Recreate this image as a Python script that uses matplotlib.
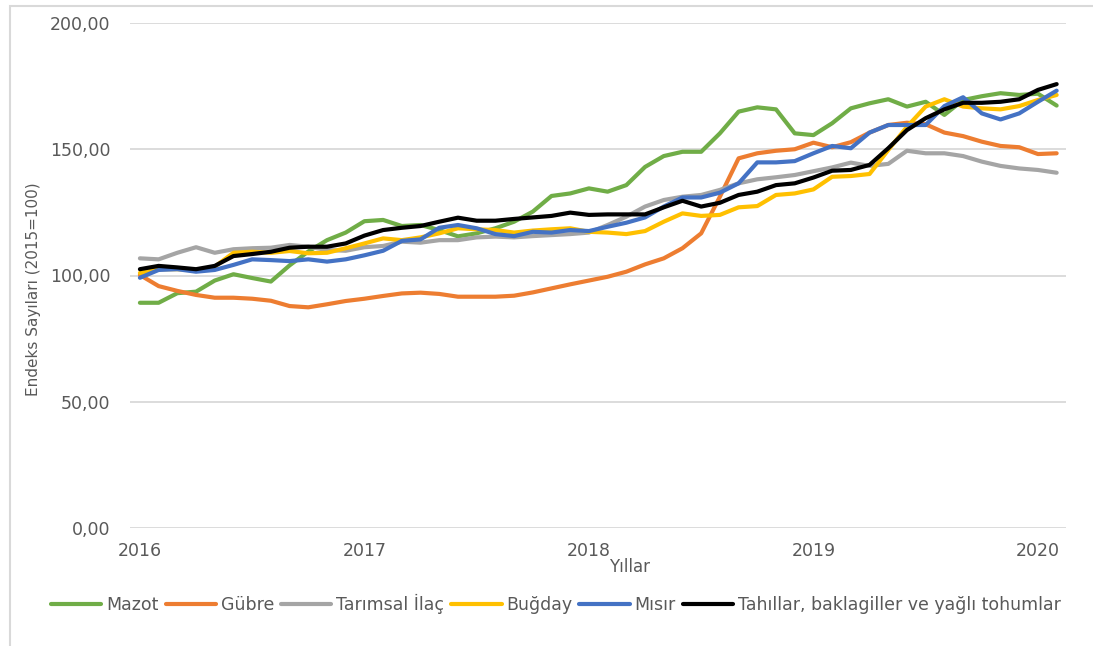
import matplotlib.pyplot as plt
from matplotlib.patches import Rectangle

# monthly index values, Jan 2016 - Feb 2020
years = ['2016', '2017', '2018', '2019', '2020']

mazot = [89.2, 89.2, 93, 93.6, 98, 100.5, 99, 97.6, 104, 109.5,
         114, 117, 121.5, 122, 119.6, 120, 118, 115.5, 116.7, 118.7,
         121.3, 125.3, 131.5, 132.5, 134.5, 133.2, 135.8, 143, 147.3, 149,
         149, 156.3, 164.9, 166.6, 165.8, 156.3, 155.6, 160.3, 166.2, 168.2,
         169.8, 166.9, 168.8, 163.6, 169.5, 171, 172.2, 171.5, 172, 167.3]

gubre = [100.2, 95.8, 93.9, 92.3, 91.2, 91.2, 90.8, 90, 87.9, 87.4,
         88.6, 89.9, 90.8, 91.9, 92.9, 93.2, 92.7, 91.6, 91.6, 91.6,
         92, 93.3, 94.9, 96.5, 98, 99.5, 101.5, 104.4, 106.8, 110.8,
         116.7, 131.2, 146.4, 148.4, 149.4, 150, 152.6, 150.8, 152.8, 156.6,
         159.6, 160.5, 159.9, 156.6, 155.2, 153, 151.3, 150.8, 148.1, 148.4]

ilac = [106.8, 106.4, 109, 111.2, 109, 110.4, 110.8, 111, 112.1, 111.4,
        110.1, 109.8, 111.2, 111.7, 113.4, 113, 114, 114, 115.1, 115.4,
        115.1, 115.6, 116, 116.4, 117, 120, 123.3, 127.3, 129.9, 131.2,
        131.9, 133.9, 136.5, 138.1, 138.9, 139.8, 141.3, 142.8, 144.7, 143.4,
        144.2, 149.4, 148.4, 148.4, 147.3, 145.1, 143.4, 142.4, 141.8, 140.7]

bugday = [101, 102.5, 102.5, 102, 103.5, 109, 109.4, 109, 109.7, 108.8,
          109, 110.8, 112.7, 114.7, 114, 115.1, 116.7, 118.7, 118.3, 118,
          117, 117.8, 118.3, 118.7, 117.3, 117, 116.4, 117.6, 121.3, 124.6,
          123.6, 124, 127, 127.5, 131.9, 132.5, 134.1, 139.1, 139.4, 140.2,
          149.7, 158.9, 166.9, 169.8, 166.9, 166.2, 165.8, 167.1, 169.5, 171.5]

misir = [99.1, 102.2, 102.5, 101.5, 102.2, 104.2, 106.4, 106.1, 105.7, 106.4,
         105.5, 106.4, 108, 109.8, 113.7, 114.3, 118.9, 120, 118.7, 116.4,
         115.6, 117.3, 117, 118, 117.6, 119.3, 120.9, 123, 127.3, 130.9,
         130.9, 132.8, 136.5, 144.8, 144.8, 145.3, 148.4, 151.3, 150.4, 156.6,
         159.6, 159.6, 159.6, 167.1, 170.6, 164.2, 161.8, 164.2, 168.8, 173.2]

tahil = [102.5, 103.8, 103.2, 102.5, 103.8, 107.7, 108.5, 109.4, 111, 111.4,
         111.4, 112.7, 115.8, 118, 118.9, 119.6, 121.3, 122.9, 121.7, 121.7,
         122.4, 123, 123.6, 124.9, 124, 124.2, 124.2, 124.2, 127, 129.6,
         127.3, 128.8, 131.9, 133.2, 135.8, 136.5, 138.8, 141.5, 141.8, 143.8,
         150.4, 157.6, 162.3, 165.8, 168.4, 168.4, 168.8, 169.8, 173.5, 175.8]

series = [
    ('Mazot', mazot, '#70AD47'),
    ('Gübre', gubre, '#ED7D31'),
    ('Tarımsal İlaç', ilac, '#A5A5A5'),
    ('Buğday', bugday, '#FFC000'),
    ('Mısır', misir, '#4472C4'),
    ('Tahıllar, baklagiller ve yağlı tohumlar', tahil, '#000000'),
]

txt = '#595959'
plt.rcParams['font.family'] = ['DejaVu Sans']

fig = plt.figure(figsize=(10.93, 6.46), dpi=100)
ax = fig.add_axes([130 / 1093, 1 - 528 / 646, (1066 - 130) / 1093, (528 - 23) / 646])

x = list(range(len(mazot)))
for name, vals, col in series:
    ax.plot(x, vals, color=col, lw=3, label=name, solid_capstyle='round')

ax.set_xlim(-0.53, 49.5)
ax.set_ylim(0, 200)
ax.set_xticks([0, 12, 24, 36, 48])
ax.set_xticklabels(years)
ax.set_yticks([0, 50, 100, 150, 200])
ax.set_yticklabels(['0,00', '50,00', '100,00', '150,00', '200,00'])
ax.tick_params(axis='x', length=0, pad=10, labelsize=12.5, labelcolor=txt)
ax.tick_params(axis='y', length=0, pad=14, labelsize=12.5, labelcolor=txt)
ax.grid(axis='y', color='#D9D9D9', lw=1.3)
ax.set_axisbelow(True)
for s in ax.spines.values():
    s.set_visible(False)

ax.set_ylabel('Endeks Sayıları (2015=100)', fontsize=11, color=txt)
ax.yaxis.set_label_coords(-0.095, 0.473, transform=ax.transAxes)
fig.text(630 / 1093, 1 - 567 / 646, 'Yıllar', fontsize=12, color=txt, ha='center', va='center')

fig.legend(loc='center', bbox_to_anchor=(556 / 1093, 1 - 604 / 646), ncol=6, frameon=False,
           fontsize=12.5, handlelength=2.9, handletextpad=0.28, columnspacing=0.4,
           labelcolor=txt, borderaxespad=0)

fig.patches.append(Rectangle((10 / 1093, -0.1), 1.2, 1 - 6 / 646 + 0.1, transform=fig.transFigure,
                             fill=False, ec='#D9D9D9', lw=1.5))

fig.savefig('out.png', dpi=100)
